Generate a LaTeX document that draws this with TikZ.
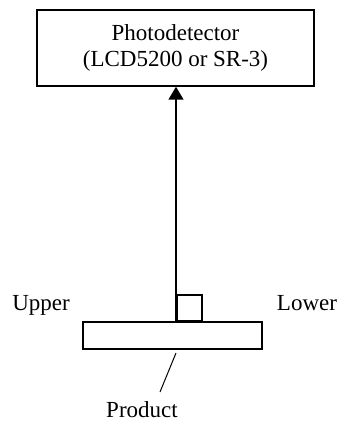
\documentclass[tikz,border=0pt]{standalone}
\usepackage{fontspec}
\setmainfont{Liberation Serif}
\usetikzlibrary{arrows.meta}

\begin{document}
\begin{tikzpicture}[x=1pt,y=1pt,line width=1.5pt,
	every node/.style={font=\fontsize{23}{26}\selectfont},
	part/.style={draw, inner sep=0pt}]
\useasboundingbox (0,0) rectangle (340,421);
\node [part, minimum width=277pt, minimum height=76pt, align=center] (det) at (175.5,373) {Photodetector\\(LCD5200 or SR-3)};
\node [part, minimum width=179pt, minimum height=27pt] (bar) at (172.5,85.5) {};
\node [part, minimum width=25pt, minimum height=26pt, anchor=south west] (sq) at (176,99) {};
\draw [-{Triangle[length=13pt,width=15pt]}] (sq.south west) -- (sq.south west |- det.south);
\node [anchor=base, inner sep=0pt] (up) at (41,110) {Upper};
\node [anchor=base, inner sep=0pt] (low) at (307,110) {Lower};
\node [anchor=base, inner sep=0pt] (prod) at (142,3.5) {Product};
\coordinate (pa) at (176,68);
\coordinate (pb) at (160,29);
\draw [line width=1pt] (pa) -- (pb);
\end{tikzpicture}
\end{document}
